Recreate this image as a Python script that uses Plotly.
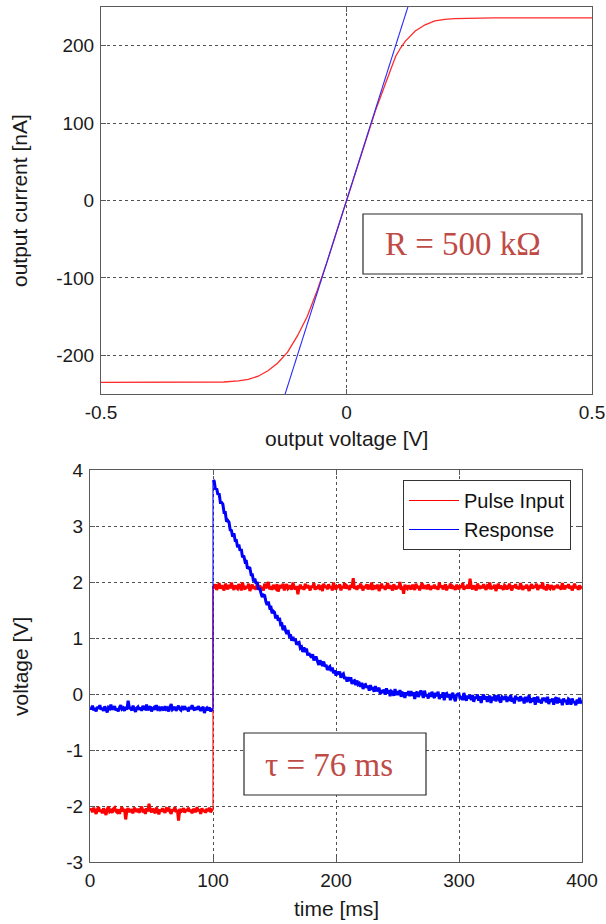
import plotly.graph_objects as go

# ---------------- top chart: I-V curve ----------------
iv_voltage = [-0.5, -0.4, -0.3, -0.25, -0.22, -0.2, -0.18, -0.16, -0.14, -0.12, -0.1, -0.08,
              -0.06, -0.04, -0.02, 0.0, 0.02, 0.04, 0.06, 0.08, 0.1, 0.11, 0.12, 0.14, 0.16,
              0.18, 0.2, 0.22, 0.25, 0.3, 0.4, 0.5]
iv_current = [-235, -235, -235, -234.5, -233, -231, -227, -220, -210, -196, -175, -150,
              -117, -80, -40, 0, 40, 80, 118, 152, 186, 197, 206, 219, 227,
              232, 234, 235, 235.5, 236, 236, 236]
fit_voltage = [-0.13, 0.13]
fit_current = [-260, 260]

# ---------------- bottom chart: pulse response ----------------
t_pre = list(range(0, 101))      # ms
t_post = list(range(100, 401))   # ms

# values in units of 0.01 V
red_pre = [-208, -205, -211, -203, -209, -214, -206, -202, -210, -207, -213, -204, -209, -216, -206, -201, -210, -208, -212, -205,
           -203, -209, -211, -206, -214, -207, -202, -210, -205, -224, -208, -204, -211, -206, -209, -213, -203, -207, -210, -205,
           -212, -206, -201, -209, -208, -214, -204, -210, -196, -207, -211, -205, -209, -213, -203, -208, -215, -206, -210, -204,
           -209, -212, -205, -207, -203, -210, -214, -206, -209, -202, -211, -207, -226, -205, -210, -208, -204, -212, -206, -209,
           -203, -210, -207, -213, -205, -208, -211, -202, -209, -206, -214, -204, -210, -207, -212, -205, -209, -203, -211, -207,
           -208]
blue_pre = [-24, -27, -21, -29, -25, -31, -23, -26, -20, -28, -25, -30, -22, -27, -33, -24, -26, -19, -28, -25,
            -22, -29, -26, -31, -24, -20, -27, -25, -30, -23, -28, -12, -24, -26, -29, -21, -27, -32, -25, -23,
            -28, -24, -30, -21, -26, -27, -19, -29, -25, -22, -31, -26, -24, -28, -20, -27, -25, -30, -23, -26,
            -29, -22, -27, -25, -31, -24, -18, -28, -26, -23, -30, -25, -21, -27, -29, -24, -26, -22, -28, -25,
            -31, -23, -27, -20, -26, -29, -24, -28, -22, -25, -30, -26, -23, -34, -27, -25, -29, -24, -31, -28,
            -27]
red_post = [193, 189, 196, 186, 191, 198, 188, 194, 190, 185, 197, 192, 187, 195, 189, 199, 191, 186, 194, 190,
            188, 196, 192, 185, 199, 190, 187, 193, 189, 197, 184, 191, 195, 188, 192, 186, 198, 190, 194, 187,
            191, 185, 197, 189, 193, 200, 187, 192, 186, 195, 190, 188, 196, 183, 191, 194, 189, 197, 185, 192,
            196, 188, 190, 194, 186, 199, 191, 187, 193, 178, 190, 195, 188, 192, 186, 197, 189, 194, 191, 185,
            193, 190, 198, 186, 192, 188, 195, 189, 191, 184, 197, 190, 193, 187, 196, 189, 192, 185, 199, 190,
            187, 194, 190, 196, 185, 192, 189, 198, 188, 193, 191, 186, 195, 190, 207, 188, 192, 186, 194, 189,
            197, 191, 185, 193, 189, 196, 187, 192, 190, 199, 186, 194, 188, 191, 195, 184, 190, 197, 189, 193,
            186, 192, 198, 188, 194, 190, 185, 196, 191, 187, 193, 189, 200, 186, 192, 179, 195, 190, 188, 194,
            190, 187, 195, 191, 186, 197, 189, 193, 185, 192, 198, 188, 191, 194, 187, 196, 190, 186, 193, 189,
            195, 188, 192, 186, 199, 190, 194, 187, 191, 196, 185, 193, 189, 197, 188, 192, 190, 186, 195, 191,
            187, 194, 190, 198, 186, 192, 189, 195, 188, 206, 191, 187, 194, 190, 185, 197, 192, 188, 193, 189,
            196, 190, 186, 193, 191, 199, 187, 192, 189, 195, 184, 191, 197, 188, 193, 190, 186, 194, 192, 187,
            191, 197, 189, 185, 194, 190, 196, 188, 192, 187, 198, 191, 186, 193, 189, 195, 190, 184, 192, 196,
            188, 193, 190, 197, 186, 191, 194, 189, 199, 187, 192, 185, 196, 190, 188, 194, 191, 186, 193, 190,
            195, 189, 192, 186, 198, 191, 187, 194, 190, 196, 188, 193, 185, 191, 197, 189, 192, 186, 194, 190,
            192]
blue_post = [382, 380, 365, 367, 356, 358, 342, 342, 339, 324,
             324, 308, 310, 307, 293, 292, 281, 287, 274, 274,
             262, 267, 256, 259, 244, 247, 237, 239, 224, 226,
             225, 213, 213, 201, 206, 197, 200, 186, 189, 180,
             173, 177, 176, 165, 159, 165, 155, 157, 144, 148,
             146, 135, 141, 131, 136, 124, 125, 114, 122, 113,
             107, 114, 104, 106, 95, 102, 95, 98, 88, 91,
             92, 82, 84, 75, 83, 75, 81, 69, 73, 69,
             65, 71, 60, 65, 65, 58, 52, 60, 56, 50,
             58, 49, 52, 43, 47, 49, 41, 47, 37, 42,
             33, 40, 35, 40, 29, 34, 36, 27, 30, 22,
             30, 23, 30, 18, 23, 24, 16, 24, 17, 19,
             13, 20, 9, 16, 17, 11, 15, 6, 16, 8,
             12, 4, 14, 5, 8, 11, 0, 7, 2, 8,
             -1, 10, 1, 7, -4, 5, 3, -3, 9, -2,
             5, -2, 7, -5, 2, 1, -7, 3, -2, 5,
             -4, 5, -3, 3, -9, 1, 4, -5, 0, 6,
             1, -7, 6, -4, -1, -8, 2, -5, 4, -3,
             -7, 2, -4, 4, -9, -1, -6, 3, -11, 0,
             1, -6, 0, -11, -3, 2, -7, -13, -2, 0,
             0, -9, -4, -11, 2, -7, -12, -3, -8, -2,
             -11, -2, -14, -5, -8, -1, -12, -4, -16, -6,
             -1, -10, -4, -14, -7, -3, -16, -5, -11, -2,
             -13, -6, -2, -12, -15, -5, -7, -10, -3, -14,
             -5, -12, -2, -14, -7, -17, -3, -10, -6, -13,
             -4, -12, -7, -17, -5, -14, -9, -2, -16, -8,
             -14, -6, -19, -9, -5, -15, -10, -17, -7, -12,
             -7, -15, -5, -18, -10, -13, -8, -19, -9, -6,
             -17, -7, -15, -10, -20, -8, -14, -11, -19, -9,
             -11, -19, -8, -16, -13, -20, -10, -17, -7, -15,
             -16]

top_xticks = [-0.5, 0, 0.5]
top_xticklabels = ["-0.5", "0", "0.5"]
top_yticks = [-200, -100, 0, 100, 200]
top_yticklabels = ["-200", "-100", "0", "100", "200"]
bot_xticks = [0, 100, 200, 300, 400]
bot_yticks = [-3, -2, -1, 0, 1, 2, 3, 4]
bot_yticklabels = ["-3", "-2", "-1", "0", "1", "2", "3", "4"]

W, H = 606, 924
RED, BLUE = "#ff0000", "#0000ff"
NOISE_W, STEP_W = 3.0, 1.1


def px(x):
    return x / W


def py(y):
    return 1 - y / H


def cv(vals):
    return [v / 100 for v in vals]


fig = go.Figure()

# top traces
fig.add_trace(go.Scatter(x=iv_voltage, y=iv_current, mode="lines", line=dict(color="#ff2a2a", width=1.3),
                         showlegend=False, xaxis="x", yaxis="y"))
fig.add_trace(go.Scatter(x=fit_voltage, y=fit_current, mode="lines", line=dict(color="#2a2aff", width=1.1),
                         showlegend=False, xaxis="x", yaxis="y"))

# bottom traces: pulse input (red)
fig.add_trace(go.Scatter(x=t_pre, y=cv(red_pre), mode="lines", legendgroup="in", showlegend=False,
                         line=dict(color=RED, width=NOISE_W, simplify=False), xaxis="x2", yaxis="y2"))
fig.add_trace(go.Scatter(x=[t_pre[-1], t_post[0]], y=cv([red_pre[-1], red_post[0]]), mode="lines",
                         name="Pulse Input", legendgroup="in", showlegend=True,
                         line=dict(color=RED, width=STEP_W), xaxis="x2", yaxis="y2"))
fig.add_trace(go.Scatter(x=t_post, y=cv(red_post), mode="lines", legendgroup="in", showlegend=False,
                         line=dict(color=RED, width=NOISE_W, simplify=False), xaxis="x2", yaxis="y2"))
# response (blue)
fig.add_trace(go.Scatter(x=t_pre, y=cv(blue_pre), mode="lines", legendgroup="out", showlegend=False,
                         line=dict(color=BLUE, width=NOISE_W, simplify=False), xaxis="x2", yaxis="y2"))
fig.add_trace(go.Scatter(x=[t_pre[-1], t_post[0]], y=cv([blue_pre[-1], blue_post[0]]), mode="lines",
                         name="Response", legendgroup="out", showlegend=True,
                         line=dict(color=BLUE, width=STEP_W), xaxis="x2", yaxis="y2"))
fig.add_trace(go.Scatter(x=t_post, y=cv(blue_post), mode="lines", legendgroup="out", showlegend=False,
                         line=dict(color=BLUE, width=NOISE_W, simplify=False), xaxis="x2", yaxis="y2"))

tickfont = dict(family="Liberation Sans, Arial, sans-serif", size=19, color="#1a1a1a")
axis_common = dict(showline=True, linecolor="#5a5a5a", linewidth=1, mirror="ticks",
                   ticks="inside", ticklen=5, tickcolor="#5a5a5a", showgrid=True,
                   gridcolor="#505050", griddash="dot", gridwidth=1, zeroline=False,
                   tickfont=tickfont, automargin=False, fixedrange=True)

fig.update_layout(
    width=W, height=H,
    margin=dict(l=0, r=0, t=0, b=0),
    paper_bgcolor="white", plot_bgcolor="white",
    xaxis=dict(domain=[px(101), px(592)], range=[-0.5, 0.5], tickvals=top_xticks,
               ticktext=top_xticklabels, anchor="y", ticklabelstandoff=1, **axis_common),
    yaxis=dict(domain=[py(394), py(7)], range=[-250, 250], tickvals=top_yticks,
               ticktext=top_yticklabels, anchor="x", ticklabelstandoff=2, **axis_common),
    xaxis2=dict(domain=[px(90), px(582)], range=[0, 400], tickvals=bot_xticks, anchor="y2",
                ticklabelstandoff=1, **axis_common),
    yaxis2=dict(domain=[py(862), py(470)], range=[-3, 4], tickvals=bot_yticks,
                ticktext=bot_yticklabels, anchor="x2", ticklabelstandoff=2, **axis_common),
    legend=dict(x=px(571), xanchor="right", y=py(480), yanchor="top",
                bgcolor="white", bordercolor="#333333", borderwidth=1,
                font=dict(family="Liberation Sans, Arial, sans-serif", size=20, color="#111111"),
                tracegroupgap=0, itemwidth=50),
    showlegend=True,
)

title_font = dict(family="Liberation Sans, Arial, sans-serif", size=21, color="#1a1a1a")
# axis titles
fig.add_annotation(text="output voltage [V]", xref="paper", yref="paper", x=px(346), y=py(439),
                   showarrow=False, font=title_font, xanchor="center", yanchor="middle")
fig.add_annotation(text="output current [nA]", xref="paper", yref="paper", x=px(20), y=py(201),
                   showarrow=False, font=title_font, textangle=-90, xanchor="center", yanchor="middle")
fig.add_annotation(text="time [ms]", xref="paper", yref="paper", x=px(336), y=py(908),
                   showarrow=False, font=title_font, xanchor="center", yanchor="middle")
fig.add_annotation(text="voltage [V]", xref="paper", yref="paper", x=px(20), y=py(666),
                   showarrow=False, font=title_font, textangle=-90, xanchor="center", yanchor="middle")

# text boxes
fig.add_shape(type="rect", xref="paper", yref="paper", x0=px(363), x1=px(582), y0=py(274), y1=py(214),
              line=dict(color="#2a2a2a", width=1.2), fillcolor="white")
fig.add_annotation(text="R = 500 kΩ", xref="paper", yref="paper", x=px(463), y=py(244),
                   showarrow=False, xanchor="center", yanchor="middle",
                   font=dict(family="Liberation Serif, Times New Roman, serif", size=33, color="#bf4b47"))
fig.add_shape(type="rect", xref="paper", yref="paper", x0=px(244), x1=px(426), y0=py(795), y1=py(733),
              line=dict(color="#2a2a2a", width=1.2), fillcolor="white")
fig.add_annotation(text="τ = 76 ms", xref="paper", yref="paper", x=px(329), y=py(765),
                   showarrow=False, xanchor="center", yanchor="middle",
                   font=dict(family="Liberation Serif, Times New Roman, serif", size=33, color="#bf4b47"))

fig.write_html("out.html", config={"displayModeBar": False},
               post_script="document.body.style.margin='0';document.body.style.overflow='hidden';")
